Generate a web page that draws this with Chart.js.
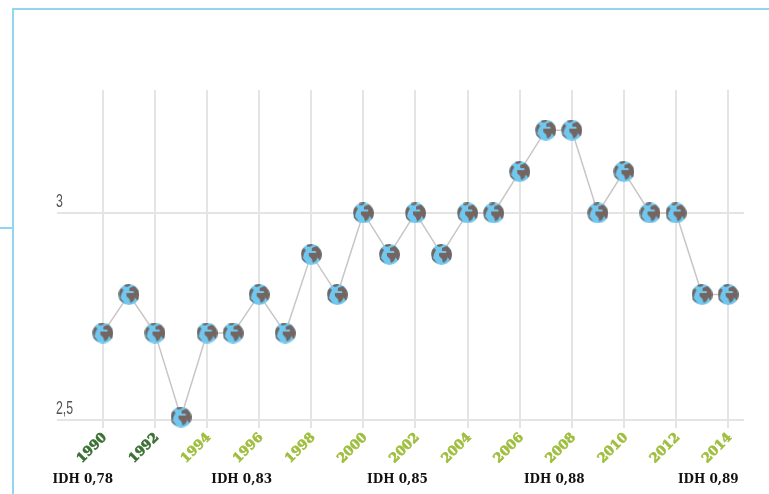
<!DOCTYPE html>
<html>
<head>
<meta charset="utf-8">
<script src="https://cdn.jsdelivr.net/npm/chart.js@4"></script>
<style>
  html, body { margin: 0; background: #fff; overflow: hidden; }
  #wrap { position: relative; width: 769px; height: 494px; }
  canvas { position: absolute; left: 0; top: 0; }
  .frame { position: absolute; background: #8fd6ee; }
</style>
</head>
<body>
<div id="wrap">
  <canvas id="chart" width="769" height="494"></canvas>
  <div class="frame" style="left:12px;top:8px;width:757px;height:2px"></div>
  <div class="frame" style="left:12px;top:8px;width:2px;height:486px"></div>
  <div class="frame" style="left:0;top:227px;width:13px;height:2px"></div>
</div>
<script>
const years = [1990, 1991, 1992, 1993, 1994, 1995, 1996, 1997, 1998, 1999, 2000, 2001, 2002,
  2003, 2004, 2005, 2006, 2007, 2008, 2009, 2010, 2011, 2012, 2013, 2014];
const values = [2.71, 2.803, 2.71, 2.507, 2.71, 2.71, 2.803, 2.71, 2.9, 2.803, 3, 2.9, 3,
  2.9, 3, 3, 3.1, 3.2, 3.2, 3, 3.1, 3, 3, 2.803, 2.803];
const yearTicks = [1990, 1992, 1994, 1996, 1998, 2000, 2002, 2004, 2006, 2008, 2010, 2012, 2014];
const valueTicks = [2.5, 3];
const idhLabels = ["IDH 0,78", "IDH 0,83", "IDH 0,85", "IDH 0,88", "IDH 0,89"];
const idhYears = [1989.23, 1995.33, 2001.31, 2007.33, 2013.24];

// globe icon used as the point style
function makeGlobe() {
  const c = document.createElement("canvas");
  c.width = c.height = 21;
  const g = c.getContext("2d");
  g.beginPath();
  g.arc(10.5, 10.5, 10.5, 0, Math.PI * 2);
  g.fillStyle = "#70c8f0";
  g.fill();
  g.save();
  g.clip();
  g.fillStyle = "#746560";
  const blobs = [
    [[6, 0], [12, 0], [11, 2], [8, 3], [6, 2]],
    [[11, 4], [16, 2], [21, 7], [21, 14], [19, 17], [16, 12], [15, 7], [11, 7]],
    [[8, 9], [16, 9], [17, 13], [15, 17], [12, 19], [11, 15], [8, 12]],
    [[0, 7], [3, 4], [5, 6], [3, 10], [2, 14], [6, 19], [4, 18], [1, 16]]
  ];
  blobs.forEach(b => {
    g.beginPath();
    b.forEach((p, i) => i ? g.lineTo(p[0], p[1]) : g.moveTo(p[0], p[1]));
    g.closePath();
    g.fill();
  });
  g.restore();
  return c;
}

const labelPlugin = {
  id: "extraLabels",
  afterDraw(chart) {
    const ctx = chart.ctx;
    ctx.save();
    ctx.font = "bold 12px 'DejaVu Serif'";
    ctx.fillStyle = "#111";
    ctx.textAlign = "center";
    ctx.textBaseline = "middle";
    idhLabels.forEach((t, i) => ctx.fillText(t, chart.scales.x.getPixelForValue(idhYears[i]), 479.5));
    // narrow y labels sitting on top of the grid lines
    ctx.font = "19px 'Liberation Sans'";
    ctx.fillStyle = "#555";
    ctx.textAlign = "left";
    ctx.textBaseline = "alphabetic";
    valueTicks.forEach(v => {
      ctx.save();
      ctx.translate(56, chart.scales.y.getPixelForValue(v) - 6);
      ctx.scale(0.65, 1);
      ctx.fillText(String(v).replace(".", ","), 0, 0);
      ctx.restore();
    });
    ctx.restore();
  }
};

new Chart(document.getElementById("chart"), {
  type: "line",
  data: {
    datasets: [{
      data: years.map((y, i) => ({ x: y, y: values[i] })),
      borderColor: "#c9c5c5",
      borderWidth: 1.5,
      tension: 0,
      pointStyle: makeGlobe(),
      pointRadius: 11,
      clip: false
    }]
  },
  plugins: [labelPlugin],
  options: {
    responsive: false,
    animation: false,
    layout: { padding: { left: 57, right: 25, top: 90, bottom: 0 } },
    plugins: { legend: { display: false }, tooltip: { enabled: false } },
    scales: {
      x: {
        type: "linear",
        min: 1988.24,
        max: 2014.61,
        afterBuildTicks: s => { s.ticks = yearTicks.map(v => ({ value: v })); },
        afterFit: s => { s.height = 74; },
        border: { display: false },
        grid: { color: "#e4e4e4", lineWidth: 2, tickLength: 8 },
        ticks: {
          autoSkip: false,
          minRotation: 45,
          maxRotation: 45,
          padding: 2,
          labelOffset: 2,
          font: { family: "'DejaVu Serif'", weight: "bold", size: 13 },
          color: c => (c.tick.value <= 1992 ? "#3a7033" : "#9fbe3f"),
          textStrokeColor: c => (c.tick.value <= 1992 ? "#3a7033" : "#9fbe3f"),
          textStrokeWidth: 0.6,
          callback: v => String(v)
        }
      },
      y: {
        min: 2.5,
        max: 3.297,
        afterBuildTicks: s => { s.ticks = valueTicks.map(v => ({ value: v })); },
        border: { display: false },
        grid: { color: "#e4e4e4", lineWidth: 2, drawTicks: false },
        ticks: { display: false }
      }
    }
  }
});
</script>
</body>
</html>
